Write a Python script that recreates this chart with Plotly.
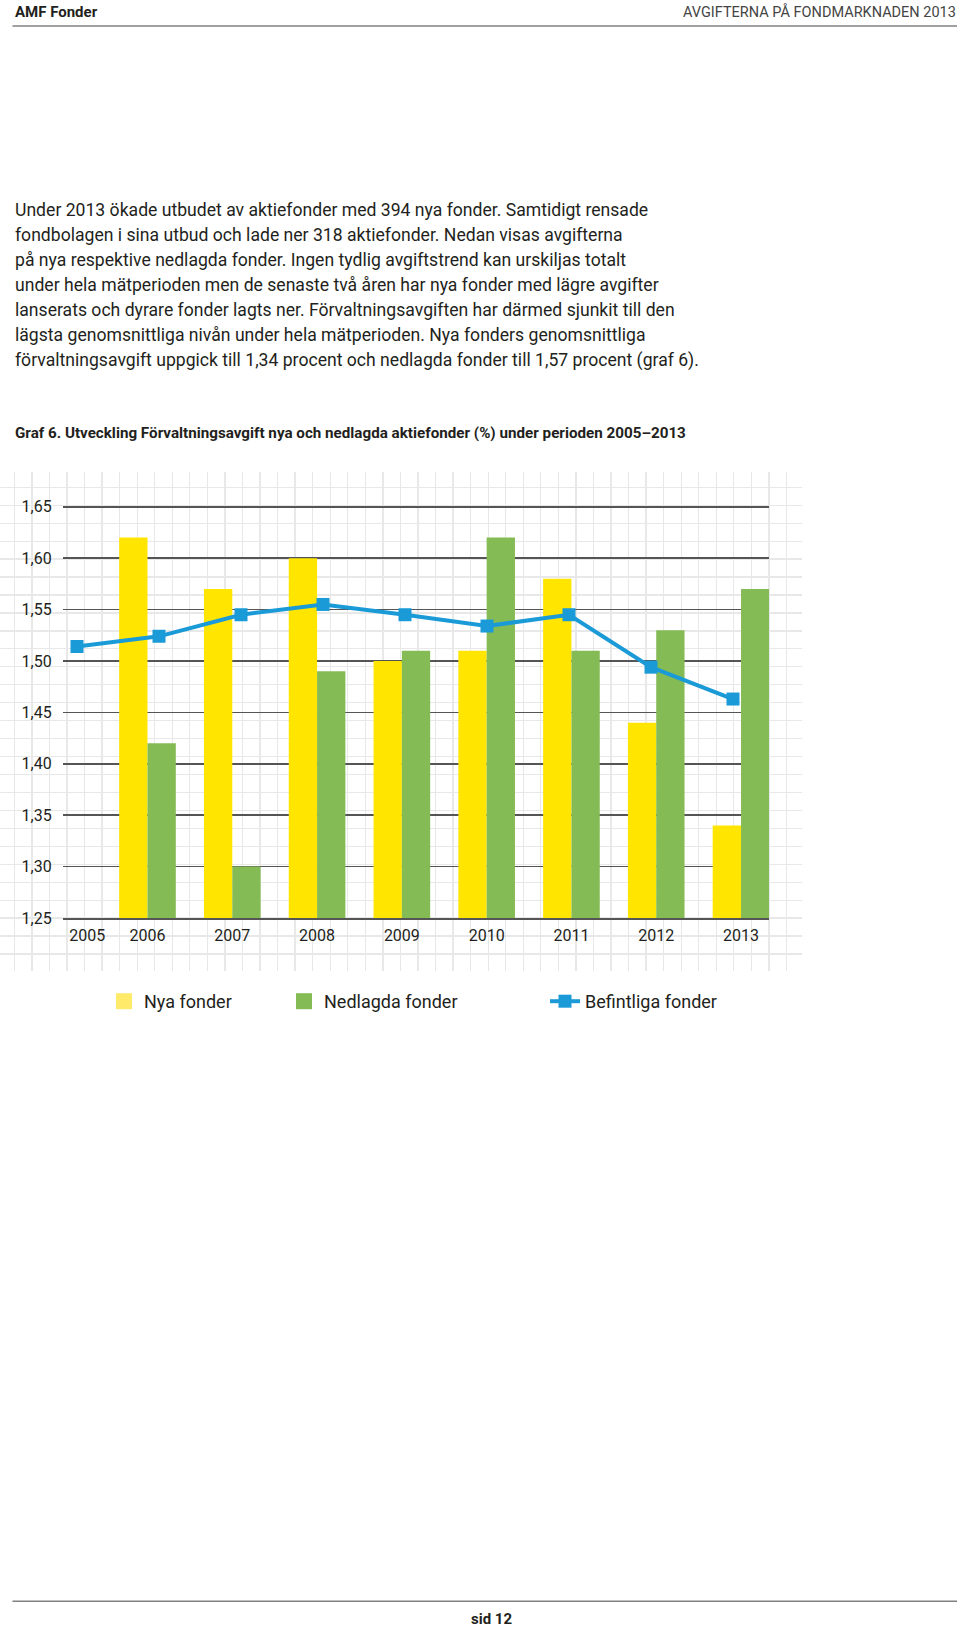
import plotly.graph_objects as go

# ---------------- data ----------------
years = ["2005", "2006", "2007", "2008", "2009", "2010", "2011", "2012", "2013"]
nya_fonder = [None, 1.62, 1.57, 1.60, 1.50, 1.51, 1.58, 1.44, 1.34]
nedlagda_fonder = [None, 1.42, 1.30, 1.49, 1.51, 1.62, 1.51, 1.53, 1.57]
befintliga_fonder = [1.514, 1.524, 1.545, 1.555, 1.545, 1.534, 1.545, 1.494, 1.463]
y_ticks = [1.25, 1.30, 1.35, 1.40, 1.45, 1.50, 1.55, 1.60, 1.65]
y_tick_labels = ["1,25", "1,30", "1,35", "1,40", "1,45", "1,50", "1,55", "1,60", "1,65"]
series_names = ["Nya fonder", "Nedlagda fonder", "Befintliga fonder"]

header_left = "AMF Fonder"
header_right = "AVGIFTERNA PÅ FONDMARKNADEN 2013"
paragraph = [
    "Under 2013 ökade utbudet av aktiefonder med 394 nya fonder. Samtidigt rensade",
    "fondbolagen i sina utbud och lade ner 318 aktiefonder. Nedan visas avgifterna",
    "på nya respektive nedlagda fonder. Ingen tydlig avgiftstrend kan urskiljas totalt",
    "under hela mätperioden men de senaste två åren har nya fonder med lägre avgifter",
    "lanserats och dyrare fonder lagts ner. Förvaltningsavgiften har därmed sjunkit till den",
    "lägsta genomsnittliga nivån under hela mätperioden. Nya fonders genomsnittliga",
    "förvaltningsavgift uppgick till 1,34 procent och nedlagda fonder till 1,57 procent (graf 6).",
]
chart_title = "Graf 6. Utveckling Förvaltningsavgift nya och nedlagda aktiefonder (%) under perioden 2005–2013"
footer = "sid 12"

# ---------------- styles ----------------
W, H = 960, 1628
YELLOW = "#FFE500"
GREEN = "#85BB55"
BLUE = "#1A9AD6"
DARK = "#555555"
TEXT = "#231f20"
FONT = "Roboto"

def px_y(y):  # page pixel (from top) -> paper coordinate
    return (H - y) / H

def px_x(x):
    return x / W

idx = list(range(len(years)))

fig = go.Figure()

# background grid subplot (xy) - empty trace so the subplot is drawn
fig.add_trace(go.Scatter(x=[], y=[], xaxis="x", yaxis="y", showlegend=False, hoverinfo="skip"))

# bars
fig.add_trace(go.Bar(x=idx, y=nya_fonder, xaxis="x2", yaxis="y2", width=0.334, offset=-0.334,
                     marker=dict(color=YELLOW, line=dict(width=0)), name=series_names[0],
                     showlegend=False))
fig.add_trace(go.Bar(x=idx, y=nedlagda_fonder, xaxis="x2", yaxis="y2", width=0.334, offset=0,
                     marker=dict(color=GREEN, line=dict(width=0)), name=series_names[1],
                     showlegend=False))
# line
fig.add_trace(go.Scatter(x=idx, y=befintliga_fonder, xaxis="x3", yaxis="y2", mode="lines+markers",
                         line=dict(color=BLUE, width=4),
                         marker=dict(symbol="square", size=13, color=BLUE),
                         name=series_names[2], legend="legend3"))

# legend proxies for bars (bigger squares)
fig.add_trace(go.Scatter(x=[None], y=[None], xaxis="x2", yaxis="y2", mode="markers",
                         marker=dict(symbol="square", size=16, color="#FFEA6A"),
                         name=series_names[0], legend="legend"))
fig.add_trace(go.Scatter(x=[None], y=[None], xaxis="x2", yaxis="y2", mode="markers",
                         marker=dict(symbol="square", size=16, color=GREEN),
                         name=series_names[1], legend="legend2"))

legend_font = dict(family=FONT, size=18, color=TEXT)
leg_y = px_y(1001.5)

fig.update_layout(
    width=W, height=H,
    margin=dict(l=0, r=0, t=0, b=0, pad=0, autoexpand=False),
    paper_bgcolor="white",
    plot_bgcolor="rgba(0,0,0,0)",
    barmode="overlay",
    font=dict(family=FONT, color=TEXT),
    legend=dict(x=px_x(104), y=leg_y, xanchor="left", yanchor="middle", font=legend_font,
                bgcolor="rgba(0,0,0,0)"),
    legend2=dict(x=px_x(284), y=leg_y, xanchor="left", yanchor="middle", font=legend_font,
                 bgcolor="rgba(0,0,0,0)"),
    legend3=dict(x=px_x(545), y=leg_y, xanchor="left", yanchor="middle", font=legend_font,
                 bgcolor="rgba(0,0,0,0)"),
    # background grid
    xaxis=dict(domain=[0, px_x(801.7)], range=[0, 801.7], tick0=14.3, dtick=17.55,
               showgrid=True, gridcolor="#e8e8e8", gridwidth=1.3, showticklabels=False,
               zeroline=False, showline=False, ticks="", fixedrange=True, automargin=False),
    yaxis=dict(domain=[px_y(970.7), px_y(471.7)], range=[970.7, 471.7], tick0=487.3, dtick=17.95,
               showgrid=True, gridcolor="#e8e8e8", gridwidth=1.3, showticklabels=False,
               zeroline=False, showline=False, ticks="", anchor="x", fixedrange=True,
               automargin=False),
    # main chart
    xaxis2=dict(domain=[px_x(62.7), px_x(769)], range=[0, 8.33], anchor="y2",
                tickmode="array", tickvals=[0.29] + idx[1:], ticktext=years,
                showgrid=False, zeroline=False, showline=True, linecolor=DARK, linewidth=1.5,
                ticks="", ticklabelstandoff=2, automargin=False,
                tickfont=dict(family=FONT, size=16, color=TEXT)),
    yaxis2=dict(domain=[px_y(918), px_y(496.5)], range=[1.25, 1.66], anchor="x2",
                tickmode="array", tickvals=y_ticks, ticktext=y_tick_labels,
                showgrid=True, gridcolor=DARK, gridwidth=1.5, zeroline=False, showline=False,
                ticks="", ticklabelstandoff=10, automargin=False,
                tickfont=dict(family=FONT, size=16, color=TEXT)),
    xaxis3=dict(overlaying="x2", anchor="y2", range=[-0.1744, 8.439], visible=False,
                automargin=False),
)

annotations = []
annotations.append(dict(text="<b>" + header_left + "</b>", x=px_x(12.5), y=px_y(12.5), xref="paper",
                        yref="paper", xanchor="left", yanchor="middle", showarrow=False,
                        font=dict(family=FONT, size=15, color=TEXT)))
annotations.append(dict(text=header_right, x=px_x(958), y=px_y(12.5), xref="paper",
                        yref="paper", xanchor="right", yanchor="middle", showarrow=False,
                        font=dict(family=FONT, size=14.5, color="#444444")))
for i, line in enumerate(paragraph):
    annotations.append(dict(text=line, x=px_x(12.5), y=px_y(209.6 + 25.07 * i), xref="paper",
                            yref="paper", xanchor="left", yanchor="middle", showarrow=False,
                            font=dict(family=FONT, size=17.6, color=TEXT)))
annotations.append(dict(text="<b>" + chart_title + "</b>", x=px_x(12.5), y=px_y(432.8),
                        xref="paper", yref="paper", xanchor="left", yanchor="middle",
                        showarrow=False, font=dict(family=FONT, size=15.2, color=TEXT)))
annotations.append(dict(text="<b>" + footer + "</b>", x=px_x(492), y=px_y(1619), xref="paper",
                        yref="paper", xanchor="center", yanchor="middle", showarrow=False,
                        font=dict(family=FONT, size=15, color=TEXT)))
fig.update_layout(annotations=annotations)

fig.update_layout(shapes=[
    dict(type="line", xref="paper", yref="paper", x0=px_x(12.5), x1=px_x(957),
         y0=px_y(26), y1=px_y(26), line=dict(color="#808080", width=1.5)),
    dict(type="line", xref="paper", yref="paper", x0=px_x(12.5), x1=px_x(957),
         y0=px_y(1601.3), y1=px_y(1601.3), line=dict(color="#808080", width=1.5)),
])

page_css = (
    "var s=document.createElement('style');"
    "s.textContent='html,body{margin:0;padding:0;overflow:hidden;width:960px;height:1628px;}';"
    "document.head.appendChild(s);"
)
fig.write_html("out.html", config={"displayModeBar": False, "staticPlot": True},
               post_script=page_css)
